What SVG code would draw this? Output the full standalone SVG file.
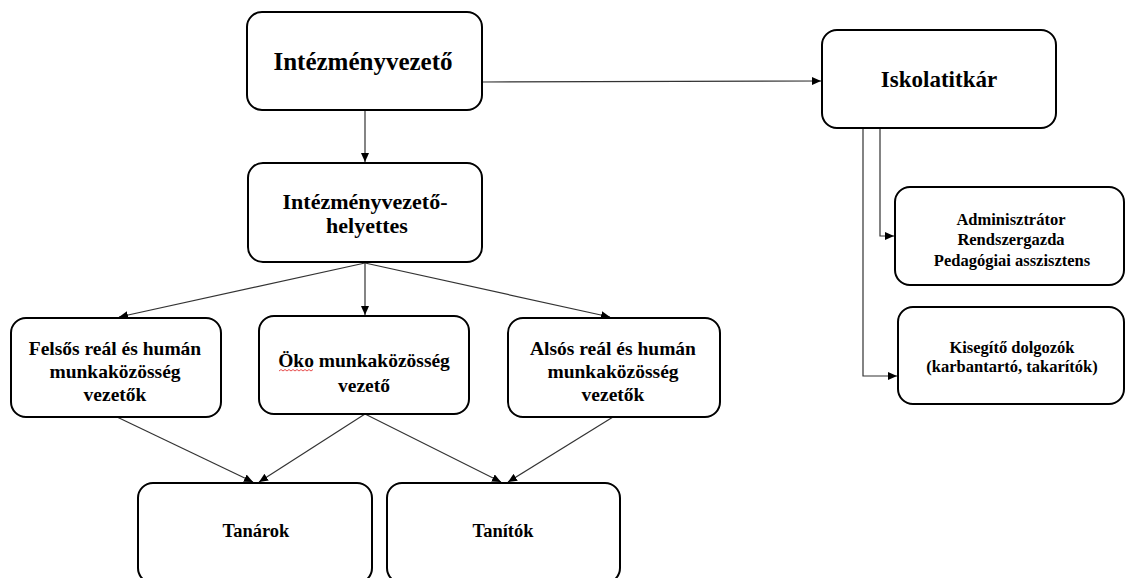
<svg xmlns="http://www.w3.org/2000/svg" width="1125" height="578" viewBox="0 0 1125 578">
<defs>
<marker id="ah" markerUnits="userSpaceOnUse" markerWidth="10" markerHeight="8" refX="9" refY="4" orient="auto">
<path d="M0,0 L9,4 L0,8 Z" fill="#000"/>
</marker>
<style>
.box{fill:#fff;stroke:#000;stroke-width:2}
.t{font-family:"Liberation Serif","Times New Roman",serif;font-weight:bold;fill:#000;text-anchor:middle}
.c{fill:none;stroke:#333;stroke-width:1.2;marker-end:url(#ah)}
</style>
</defs>
<rect width="1125" height="578" fill="#fff"/>
<g id="connectors">
<path class="c" d="M482,82 L821,81"/>
<path class="c" d="M365,111 L365,162"/>
<path class="c" d="M365,263 L119,317"/>
<path class="c" d="M365,263 L365,315"/>
<path class="c" d="M365,263 L610,317"/>
<path class="c" d="M117,417 L253,482"/>
<path class="c" d="M365,414 L259,482"/>
<path class="c" d="M365,414 L501,482"/>
<path class="c" d="M613,417 L508,482"/>
<path class="c" d="M880,129 L880,236 L894,236"/>
<path class="c" d="M863,129 L863,376 L897,376"/>
</g>
<g id="n-intezmenyvezeto">
<rect class="box" x="247" y="12" width="235" height="98" rx="15"/>
<text class="t" x="363" y="70" font-size="25">Intézményvezető</text>
</g>
<g id="n-iskolatitkar">
<rect class="box" x="822" y="30" width="234" height="98" rx="15"/>
<text class="t" x="939" y="87" font-size="23">Iskolatitkár</text>
</g>
<g id="n-helyettes">
<rect class="box" x="248" y="163" width="234" height="99" rx="15"/>
<text class="t" x="365" y="209" font-size="22">Intézményvezető-</text>
<text class="t" x="367" y="233" font-size="22">helyettes</text>
</g>
<g id="n-felsos">
<rect class="box" x="11" y="318" width="210" height="99" rx="15"/>
<text class="t" x="115" y="355" font-size="19.5">Felsős reál és humán</text>
<text class="t" x="115" y="378" font-size="19.5">munkaközösség</text>
<text class="t" x="115" y="401" font-size="19.5">vezetők</text>
</g>
<g id="n-oko">
<rect class="box" x="259" y="316" width="210" height="98" rx="15"/>
<text class="t" x="364" y="367" font-size="19.5">Öko munkaközösség</text>
<text class="t" x="364" y="392" font-size="19.5">vezető</text>
<path d="M279,371 l2,-1.5 l2,1.5 l2,-1.5 l2,1.5 l2,-1.5 l2,1.5 l2,-1.5 l2,1.5 l2,-1.5 l2,1.5 l2,-1.5 l2,1.5 l2,-1.5 l2,1.5 l2,-1.5 l2,1.5 l2,-1.5" fill="none" stroke="#e02020" stroke-width="0.8"/>
</g>
<g id="n-alsos">
<rect class="box" x="508" y="318" width="212" height="99" rx="15"/>
<text class="t" x="613" y="355" font-size="19.5">Alsós reál és humán</text>
<text class="t" x="613" y="378" font-size="19.5">munkaközösség</text>
<text class="t" x="613" y="401" font-size="19.5">vezetők</text>
</g>
<g id="n-tanarok">
<rect class="box" x="138" y="483" width="234" height="100" rx="15"/>
<text class="t" x="256" y="537" font-size="18.5">Tanárok</text>
</g>
<g id="n-tanitok">
<rect class="box" x="387" y="483" width="233" height="100" rx="15"/>
<text class="t" x="503" y="537" font-size="18.5">Tanítók</text>
</g>
<g id="n-admin">
<rect class="box" x="895" y="187" width="229" height="98" rx="15"/>
<text class="t" x="1011" y="225" font-size="16.5">Adminisztrátor</text>
<text class="t" x="1011" y="245" font-size="16.5">Rendszergazda</text>
<text class="t" x="1012" y="266" font-size="16.5">Pedagógiai asszisztens</text>
</g>
<g id="n-kisegito">
<rect class="box" x="898" y="307" width="226" height="97" rx="15"/>
<text class="t" x="1012" y="353" font-size="16.5">Kisegítő dolgozók</text>
<text class="t" x="1012" y="372" font-size="16.5">(karbantartó, takarítók)</text>
</g>
</svg>
